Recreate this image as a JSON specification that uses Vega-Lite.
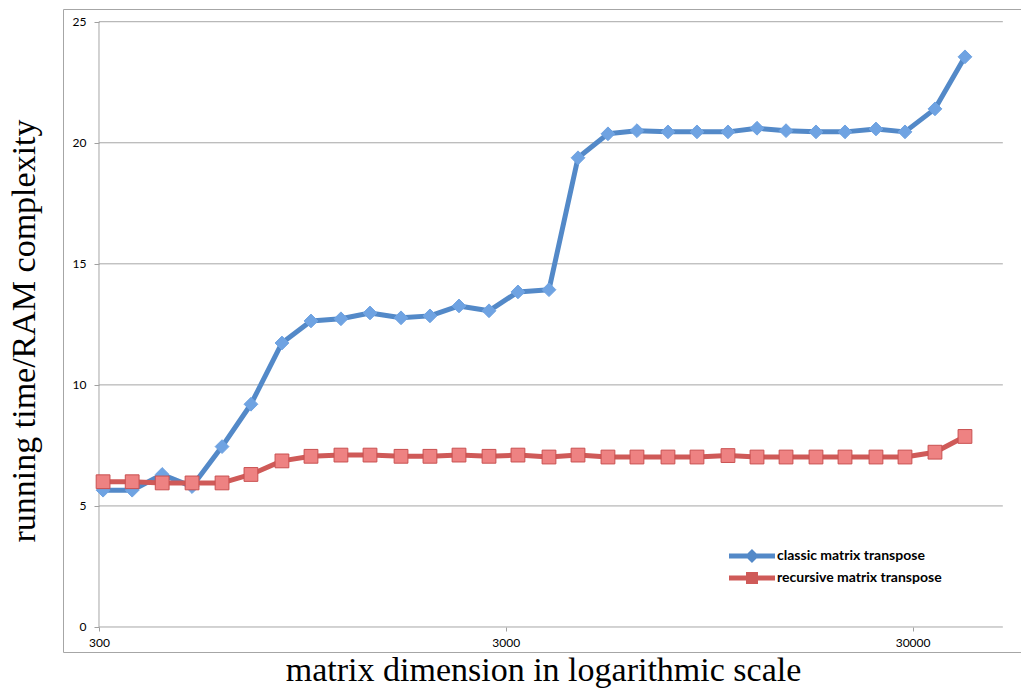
{
  "$schema": "https://vega.github.io/schema/vega-lite/v6.json",
  "width": 960,
  "height": 643,
  "autosize": {"type": "none"},
  "padding": {"left": 63, "top": 9, "right": 0, "bottom": 39},
  "background": "white",
  "config": {"view": {"stroke": "#a6a6a6", "strokeWidth": 1}},
  "datasets": {
    "lines": [
      {"n": 300, "n2": 50000, "t": 5, "t2": 5},
      {"n": 300, "n2": 50000, "t": 10, "t2": 10},
      {"n": 300, "n2": 50000, "t": 15, "t2": 15},
      {"n": 300, "n2": 50000, "t": 20, "t2": 20},
      {"n": 300, "n2": 50000, "t": 25, "t2": 25},
      {"n": 300, "n2": 50000, "t": 0, "t2": 0},
      {"n": 300, "n2": 300, "t": 0, "t2": 25}
    ],
    "main": [
      {"series": "classic matrix transpose", "n": 307, "t": 5.65},
      {"series": "classic matrix transpose", "n": 362, "t": 5.65},
      {"series": "classic matrix transpose", "n": 429, "t": 6.3},
      {"series": "classic matrix transpose", "n": 508, "t": 5.8},
      {"series": "classic matrix transpose", "n": 602, "t": 7.45},
      {"series": "classic matrix transpose", "n": 709, "t": 9.2},
      {"series": "classic matrix transpose", "n": 845, "t": 11.73},
      {"series": "classic matrix transpose", "n": 996, "t": 12.64},
      {"series": "classic matrix transpose", "n": 1180, "t": 12.73},
      {"series": "classic matrix transpose", "n": 1391, "t": 12.97},
      {"series": "classic matrix transpose", "n": 1658, "t": 12.77},
      {"series": "classic matrix transpose", "n": 1953, "t": 12.85},
      {"series": "classic matrix transpose", "n": 2302, "t": 13.26},
      {"series": "classic matrix transpose", "n": 2728, "t": 13.06},
      {"series": "classic matrix transpose", "n": 3214, "t": 13.84},
      {"series": "classic matrix transpose", "n": 3831, "t": 13.93},
      {"series": "classic matrix transpose", "n": 4515, "t": 19.38},
      {"series": "classic matrix transpose", "n": 5349, "t": 20.37},
      {"series": "classic matrix transpose", "n": 6303, "t": 20.5},
      {"series": "classic matrix transpose", "n": 7513, "t": 20.45},
      {"series": "classic matrix transpose", "n": 8853, "t": 20.45},
      {"series": "classic matrix transpose", "n": 10551, "t": 20.45},
      {"series": "classic matrix transpose", "n": 12435, "t": 20.6},
      {"series": "classic matrix transpose", "n": 14655, "t": 20.5},
      {"series": "classic matrix transpose", "n": 17364, "t": 20.45},
      {"series": "classic matrix transpose", "n": 20463, "t": 20.45},
      {"series": "classic matrix transpose", "n": 24384, "t": 20.57},
      {"series": "classic matrix transpose", "n": 28737, "t": 20.45},
      {"series": "classic matrix transpose", "n": 34054, "t": 21.4},
      {"series": "classic matrix transpose", "n": 40355, "t": 23.55},
      {"series": "recursive matrix transpose", "n": 307, "t": 6.0},
      {"series": "recursive matrix transpose", "n": 362, "t": 6.0},
      {"series": "recursive matrix transpose", "n": 429, "t": 5.95},
      {"series": "recursive matrix transpose", "n": 508, "t": 5.95},
      {"series": "recursive matrix transpose", "n": 602, "t": 5.95},
      {"series": "recursive matrix transpose", "n": 709, "t": 6.3},
      {"series": "recursive matrix transpose", "n": 845, "t": 6.86},
      {"series": "recursive matrix transpose", "n": 996, "t": 7.05},
      {"series": "recursive matrix transpose", "n": 1180, "t": 7.1},
      {"series": "recursive matrix transpose", "n": 1391, "t": 7.1},
      {"series": "recursive matrix transpose", "n": 1658, "t": 7.05},
      {"series": "recursive matrix transpose", "n": 1953, "t": 7.05},
      {"series": "recursive matrix transpose", "n": 2302, "t": 7.1},
      {"series": "recursive matrix transpose", "n": 2728, "t": 7.05},
      {"series": "recursive matrix transpose", "n": 3214, "t": 7.1},
      {"series": "recursive matrix transpose", "n": 3831, "t": 7.02},
      {"series": "recursive matrix transpose", "n": 4515, "t": 7.1},
      {"series": "recursive matrix transpose", "n": 5349, "t": 7.02},
      {"series": "recursive matrix transpose", "n": 6303, "t": 7.02},
      {"series": "recursive matrix transpose", "n": 7513, "t": 7.02},
      {"series": "recursive matrix transpose", "n": 8853, "t": 7.02},
      {"series": "recursive matrix transpose", "n": 10551, "t": 7.08},
      {"series": "recursive matrix transpose", "n": 12435, "t": 7.02},
      {"series": "recursive matrix transpose", "n": 14655, "t": 7.02},
      {"series": "recursive matrix transpose", "n": 17364, "t": 7.02},
      {"series": "recursive matrix transpose", "n": 20463, "t": 7.02},
      {"series": "recursive matrix transpose", "n": 24384, "t": 7.02},
      {"series": "recursive matrix transpose", "n": 28737, "t": 7.02},
      {"series": "recursive matrix transpose", "n": 34054, "t": 7.22},
      {"series": "recursive matrix transpose", "n": 40355, "t": 7.87}
    ]
  },
  "encoding": {
    "x": {
      "field": "n",
      "type": "quantitative",
      "scale": {"type": "log", "domain": [244.7, 56045], "nice": false},
      "axis": {
        "values": [300, 3000, 30000],
        "format": "d",
        "grid": false,
        "domain": false,
        "ticks": true,
        "tickSize": 4,
        "tickColor": "#a0a0a0",
        "labelFont": "Lato",
        "labelFontSize": 12,
        "labelColor": "black",
        "labelPadding": 6,
        "labelFlush": false,
        "labelOverlap": false,
        "offset": -25,
        "title": "matrix dimension in logarithmic scale",
        "titleFont": "Liberation Serif",
        "titleFontSize": 34,
        "titleFontWeight": "normal",
        "titleColor": "black",
        "titlePadding": 5
      }
    },
    "y": {
      "field": "t",
      "type": "quantitative",
      "scale": {"domain": [-1.033, 25.525], "nice": false, "zero": false},
      "axis": {
        "values": [0, 5, 10, 15, 20, 25],
        "grid": false,
        "domain": false,
        "ticks": true,
        "tickSize": 5,
        "tickColor": "#a0a0a0",
        "labelFont": "Lato",
        "labelFontSize": 12,
        "labelColor": "black",
        "labelPadding": 8,
        "offset": -36,
        "title": "running time/RAM complexity",
        "titleFont": "Liberation Serif",
        "titleFontSize": 34,
        "titleFontWeight": "normal",
        "titleColor": "black",
        "titlePadding": 31
      }
    }
  },
  "layer": [
    {
      "data": {"name": "lines"},
      "mark": {"type": "rule", "color": "#a6a6a6", "strokeWidth": 1},
      "encoding": {
        "x2": {"field": "n2"},
        "y2": {"field": "t2"}
      }
    },
    {
      "data": {"name": "main"},
      "mark": {"type": "line", "strokeWidth": 5, "strokeJoin": "round", "strokeCap": "round"},
      "encoding": {
        "color": {
          "field": "series",
          "type": "nominal",
          "scale": {"domain": ["classic matrix transpose", "recursive matrix transpose"], "range": ["#5389c8", "#cf5a58"]},
          "legend": null
        }
      }
    },
    {
      "data": {"name": "main"},
      "mark": {"type": "point", "filled": true, "size": 190, "strokeWidth": 1, "opacity": 1},
      "encoding": {
        "shape": {
          "field": "series",
          "type": "nominal",
          "scale": {"domain": ["classic matrix transpose", "recursive matrix transpose"], "range": ["diamond", "square"]},
          "legend": null
        },
        "color": {
          "field": "series",
          "type": "nominal",
          "scale": {"domain": ["classic matrix transpose", "recursive matrix transpose"], "range": ["#6fa3e2", "#ee8282"]},
          "legend": null
        },
        "stroke": {
          "field": "series",
          "type": "nominal",
          "scale": {"domain": ["classic matrix transpose", "recursive matrix transpose"], "range": ["#6fa3e2", "#c95050"]},
          "legend": null
        }
      }
    },
    {
      "data": {"name": "main"},
      "mark": {"type": "point", "filled": true, "opacity": 0, "size": 196},
      "encoding": {
        "color": {
          "field": "series",
          "type": "nominal",
          "scale": {"domain": ["classic matrix transpose", "recursive matrix transpose"], "range": ["#5389c8", "#cf5a58"]},
          "legend": {
            "title": null,
            "orient": "none",
            "legendX": 698,
            "legendY": 540,
            "padding": 0,
            "labelFont": "Lato",
            "labelFontSize": 14,
            "labelFontWeight": "bold",
            "labelColor": "black",
            "labelOffset": 2,
            "labelLimit": 400,
            "rowPadding": 8,
            "symbolOpacity": 1,
            "symbolStrokeWidth": 0,
            "symbolSize": 196
          }
        },
        "shape": {
          "field": "series",
          "type": "nominal",
          "scale": {
            "domain": ["classic matrix transpose", "recursive matrix transpose"],
            "range": [
              "M-5.571,-0.357 L1,-0.357 L1,0.357 L-5.571,0.357 Z M-2.286,-1 L-1.286,0 L-2.286,1 L-3.286,0 Z",
              "M-5.571,-0.357 L1,-0.357 L1,0.357 L-5.571,0.357 Z M-3.143,-0.857 L-1.429,-0.857 L-1.429,0.857 L-3.143,0.857 Z"
            ]
          },
          "legend": {
            "title": null,
            "orient": "none",
            "legendX": 698,
            "legendY": 540,
            "padding": 0,
            "labelFont": "Lato",
            "labelFontSize": 14,
            "labelFontWeight": "bold",
            "labelColor": "black",
            "labelOffset": 2,
            "labelLimit": 400,
            "rowPadding": 8,
            "symbolOpacity": 1,
            "symbolStrokeWidth": 0,
            "symbolSize": 196
          }
        }
      }
    }
  ],
  "resolve": {"scale": {"color": "independent", "shape": "independent", "stroke": "independent"}}
}
